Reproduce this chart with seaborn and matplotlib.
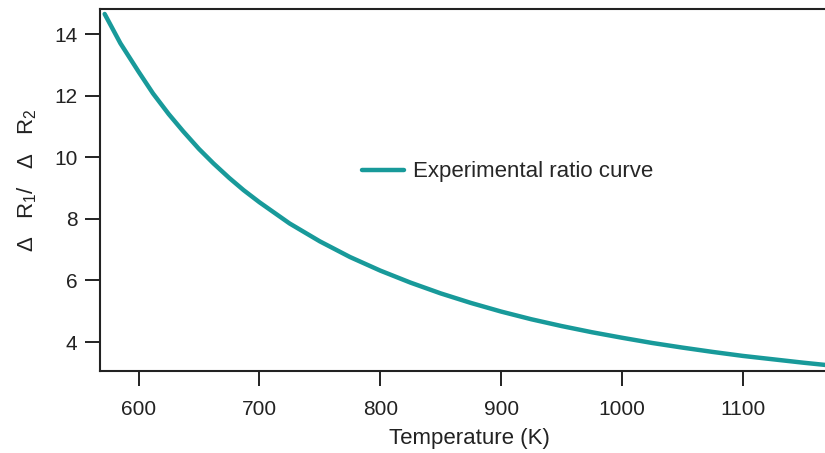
import numpy as np
import pandas as pd
import matplotlib
matplotlib.use("Agg")
import matplotlib.pyplot as plt
import seaborn as sns

# ================================================================================
# Data
# ================================================================================
temperature = [572, 585, 600, 612, 625, 637, 650, 662, 675, 687, 700, 725, 750, 775,
               800, 825, 850, 875, 900, 925, 950, 975, 1000, 1025, 1050, 1075,
               1100, 1125, 1150, 1170]
ratio       = [14.65, 13.7, 12.78, 12.07, 11.4, 10.84, 10.27, 9.8, 9.33, 8.93, 8.54,
               7.85, 7.27, 6.76, 6.32, 5.93, 5.58, 5.27, 4.99, 4.74, 4.52, 4.32,
               4.14, 3.97, 3.82, 3.68, 3.55, 3.44, 3.33, 3.25]
series_name = "Experimental ratio curve"
x_ticks     = [600, 700, 800, 900, 1000, 1100]
y_ticks     = [4, 6, 8, 10, 12, 14]

df = pd.DataFrame({"T": temperature, "ratio": ratio, "series": series_name})

# --------------------------------------------------------------------------------
# Style
# --------------------------------------------------------------------------------
sns.set_style("ticks")
plt.rcParams["font.family"] = ["Liberation Sans", "DejaVu Sans"]
plt.rcParams["mathtext.fontset"] = "custom"
plt.rcParams["mathtext.rm"] = "Liberation Sans"
plt.rcParams["mathtext.it"] = "Liberation Sans"

ink = "#222222"
fs  = 15    # tick labels
fl  = 16    # axis labels + legend

fig = plt.figure(figsize=(8.25, 4.53), dpi=100)
ax  = fig.add_axes([0.121, 0.181, 0.879, 0.799])

sns.lineplot(data=df, x="T", y="ratio", hue="series", palette=["#189a9a"],
             linewidth=3.2, ax=ax, legend=True)

ax.set_xlim(568, 1168)
ax.set_ylim(3.06, 14.81)
ax.set_xticks(x_ticks)
ax.set_yticks(y_ticks)

for side in ["left", "bottom", "top"]:
    ax.spines[side].set_linewidth(1.5)
    ax.spines[side].set_color(ink)
ax.spines["top"].set_visible(True)
ax.spines["right"].set_visible(False)

ax.tick_params(axis="both", direction="out", length=11, width=1.4,
               labelsize=fs, colors=ink)
ax.tick_params(axis="x", pad=10)
ax.tick_params(axis="y", pad=5)

ax.set_xlabel("Temperature (K)", fontsize=fl, color=ink)
ax.set_ylabel(r"$\Delta$   R$_1$/   $\Delta$   R$_2$", fontsize=fl, color=ink)
ax.xaxis.set_label_coords(0.509, -0.158)
ax.yaxis.set_label_coords(-0.084, 0.528)

ax.legend(loc="center left", bbox_to_anchor=(0.361, 0.55), frameon=False,
          fontsize=fl, handlelength=1.9, handletextpad=0.4,
          borderpad=0, borderaxespad=0)

fig.savefig("out.png", dpi=100)
